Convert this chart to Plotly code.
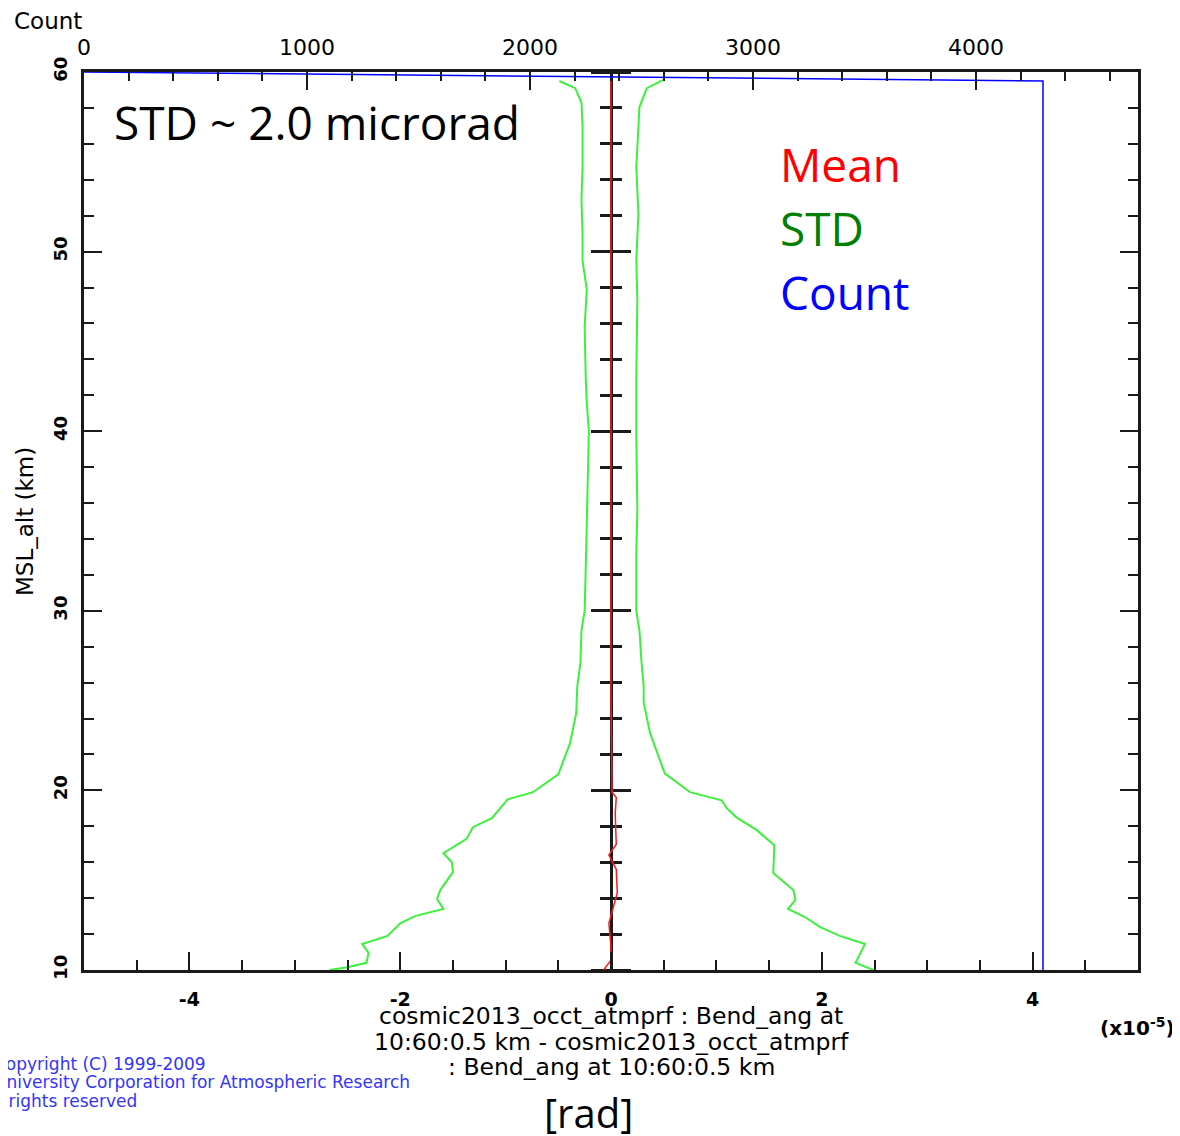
import plotly.graph_objects as go

# ---------------- data (values in units of 1e-5 rad, altitude in km) ----------------
alt_mean = [10.0, 10.55, 11.3, 12.6, 13.45, 14.3, 15.6, 16.4, 17.0, 18.7, 19.6, 19.9,
            25.0, 30.0, 40.0, 50.0, 59.5]
mean_val = [-0.07, 0.0, 0.0, -0.02, 0.02, 0.06, 0.05, -0.02, 0.05, 0.04, 0.05, 0.01,
            0.0, 0.0, 0.0, 0.0, 0.0]

alt_std_hi = [10.0, 10.4, 11.45, 11.9, 12.4, 12.95, 13.4, 13.9, 14.45, 15.4, 16.95, 17.8,
              18.5, 19.0, 19.45, 19.9, 20.95, 22.4, 23.2, 24.9, 25.8, 27.1, 28.9, 30.0,
              33.2, 35.6, 39.7, 43.0, 47.3, 49.5, 52.1, 54.7, 56.6, 58.05, 59.1, 59.55]
std_hi = [2.49, 2.32, 2.41, 2.17, 1.98, 1.84, 1.68, 1.75, 1.73, 1.54, 1.55, 1.38,
          1.19, 1.10, 1.05, 0.75, 0.51, 0.42, 0.37, 0.31, 0.31, 0.29, 0.27, 0.24,
          0.24, 0.25, 0.24, 0.24, 0.25, 0.24, 0.26, 0.24, 0.26, 0.27, 0.34, 0.49]

alt_std_lo = [10.0, 10.15, 10.4, 10.95, 11.45, 11.9, 12.6, 13.0, 13.4, 13.95, 14.45, 15.45,
              16.0, 16.5, 17.3, 17.95, 18.45, 19.5, 19.9, 20.9, 22.6, 24.3, 25.8, 27.1,
              28.9, 30.0, 32.3, 35.6, 38.2, 40.0, 41.6, 43.0, 45.8, 47.9, 49.5, 51.0,
              52.9, 54.7, 56.95, 58.3, 59.1, 59.5]
std_lo = [-2.67, -2.50, -2.32, -2.30, -2.36, -2.12, -2.00, -1.86, -1.59, -1.65, -1.62, -1.50,
          -1.51, -1.59, -1.37, -1.31, -1.13, -0.98, -0.74, -0.50, -0.39, -0.33, -0.32, -0.29,
          -0.28, -0.25, -0.24, -0.23, -0.22, -0.21, -0.23, -0.24, -0.25, -0.23, -0.27, -0.27,
          -0.28, -0.27, -0.27, -0.28, -0.34, -0.49]

alt_count = [10.0, 59.5, 60.0]
count_val = [4300, 4300, 0]

x_ticks = [-4, -2, 0, 2, 4]
count_ticks = [0, 1000, 2000, 3000, 4000]
alt_ticks = [10, 20, 30, 40, 50, 60]

bottom_title = ["cosmic2013_occt_atmprf : Bend_ang at",
                "10:60:0.5 km - cosmic2013_occt_atmprf",
                ": Bend_ang at 10:60:0.5 km"]
copyright_lines = ["Copyright (C) 1999-2009",
                   "University Corporation for Atmospheric Research",
                   "All rights reserved"]

# ---------------- layout geometry ----------------
OFF = 8                      # page body margin
W, H = 1180 - OFF, 1136 - OFF
L, R, T, B = 84 - OFF, 42, 72 - OFF, 166
PW, PH = W - L - R, H - T - B


def px(sx):
    """screen x -> paper x"""
    return (sx - OFF - L) / PW


def py(sy):
    """screen y -> paper y"""
    return (H - B - (sy - OFF)) / PH


FONT = "DejaVu Sans"
BIG = "Open Sans"
FRAME = "#1a1a1a"

fig = go.Figure()
fig.add_trace(go.Scatter(x=std_lo, y=alt_std_lo, mode="lines",
                         line=dict(color="#3cf03c", width=2), xaxis="x", yaxis="y",
                         showlegend=False, hoverinfo="skip"))
fig.add_trace(go.Scatter(x=std_hi, y=alt_std_hi, mode="lines",
                         line=dict(color="#3cf03c", width=2), xaxis="x", yaxis="y4",
                         showlegend=False, hoverinfo="skip"))
fig.add_trace(go.Scatter(x=count_val, y=alt_count, mode="lines",
                         line=dict(color="#0000ff", width=1.5), xaxis="x2", yaxis="y2",
                         showlegend=False, hoverinfo="skip"))
fig.add_trace(go.Scatter(x=mean_val, y=alt_mean, mode="lines",
                         line=dict(color="#ff1a1a", width=1.5), xaxis="x", yaxis="y3",
                         showlegend=False, hoverinfo="skip"))

tick_common = dict(showgrid=False, zeroline=False, showline=True, linecolor=FRAME,
                   linewidth=2.5, tickcolor=FRAME, tickwidth=2)

fig.update_layout(
    width=W, height=H, autosize=False,
    margin=dict(l=L, r=R, t=T, b=B, pad=0),
    paper_bgcolor="white", plot_bgcolor="white",
    showlegend=False,
    xaxis=dict(domain=[0, 1], range=[-5, 5], anchor="y", side="bottom",
               ticks="inside", tickvals=x_ticks, ticktext=[str(v) for v in x_ticks],
               ticklen=18,
               minor=dict(dtick=0.5, tick0=0, ticks="inside", ticklen=10, tickwidth=2,
                          tickcolor=FRAME, showgrid=False),
               tickfont=dict(family=FONT, size=19, color="black", weight="bold"),
               ticklabelstandoff=10, **tick_common),
    xaxis2=dict(overlaying="x", range=[0, 4726], anchor="y", side="top",
                ticks="inside", tickvals=count_ticks, ticklen=18,
                minor=dict(dtick=200, tick0=0, ticks="inside", ticklen=9, tickwidth=2,
                           tickcolor=FRAME, showgrid=False),
                tickfont=dict(family=FONT, size=22, color="black"),
                ticklabelstandoff=5, **tick_common),
    yaxis=dict(domain=[0, 1], range=[10, 60], anchor="x", side="left",
               ticks="inside", tickvals=alt_ticks, ticklen=18, tickangle=-90,
               minor=dict(dtick=2, tick0=10, ticks="inside", ticklen=10, tickwidth=2,
                          tickcolor=FRAME, showgrid=False),
               tickfont=dict(family=FONT, size=18, color="black", weight="bold"),
               ticklabelstandoff=7, **tick_common),
    yaxis2=dict(overlaying="y", range=[10, 60], anchor="x", side="right",
                ticks="inside", tickvals=alt_ticks, ticklen=18, showticklabels=False,
                minor=dict(dtick=2, tick0=10, ticks="inside", ticklen=10, tickwidth=2,
                           tickcolor=FRAME, showgrid=False),
                **tick_common),
    yaxis3=dict(overlaying="y", range=[10, 60], anchor="free", position=0.5, side="left",
                ticks="outside", tickvals=alt_ticks, ticklen=19, showticklabels=False,
                minor=dict(dtick=2, tick0=10, ticks="outside", ticklen=10, tickwidth=2.5,
                           tickcolor=FRAME, showgrid=False),
                layer="below traces",
                **{**tick_common, "tickwidth": 2.5}),
    yaxis4=dict(overlaying="y", range=[10, 60], anchor="free", position=0.5, side="right",
                ticks="outside", tickvals=alt_ticks, ticklen=19, showticklabels=False,
                minor=dict(dtick=2, tick0=10, ticks="outside", ticklen=10, tickwidth=2.5,
                           tickcolor=FRAME, showgrid=False),
                layer="below traces",
                **{**tick_common, "tickwidth": 2.5, "showline": False}),
)


def note(text, sx, sy, size, family=FONT, color="black", xanchor="center",
         weight="normal", angle=0):
    return dict(text=text, x=px(sx), y=py(sy), xref="paper", yref="paper",
                xanchor=xanchor, yanchor="middle", showarrow=False, textangle=angle,
                font=dict(family=family, size=size, color=color, weight=weight))


ann = [
    note("Count", 48, 21, 23),
    note("MSL_alt (km)", 25, 522, 23, angle=-90),
    note("(x10<sup>-5</sup>)", 1137, 1027, 20, weight="bold"),
    note("[rad]", 588, 1112, 40, family=BIG),
    note("STD ~ 2.0 microrad", 112, 122, 46, family=BIG, xanchor="left"),
]
for i, line in enumerate(bottom_title):
    ann.append(note(line, 611, 1016 + 25.5 * i, 23.5))
for line, sx, sy in zip(copyright_lines, [-8, -8.5, -20.5], [1064, 1082, 1101]):
    ann.append(note(line, sx, sy, 17, color="#3333ff", xanchor="left"))
for label, col, sy in [("Mean", "#ff0000", 164), ("STD", "#008000", 228),
                       ("Count", "#0000ff", 292)]:
    ann.append(note(label, 778, sy, 46, family=BIG, color=col, xanchor="left"))
fig.update_layout(annotations=ann)

fig.write_html("out.html")
